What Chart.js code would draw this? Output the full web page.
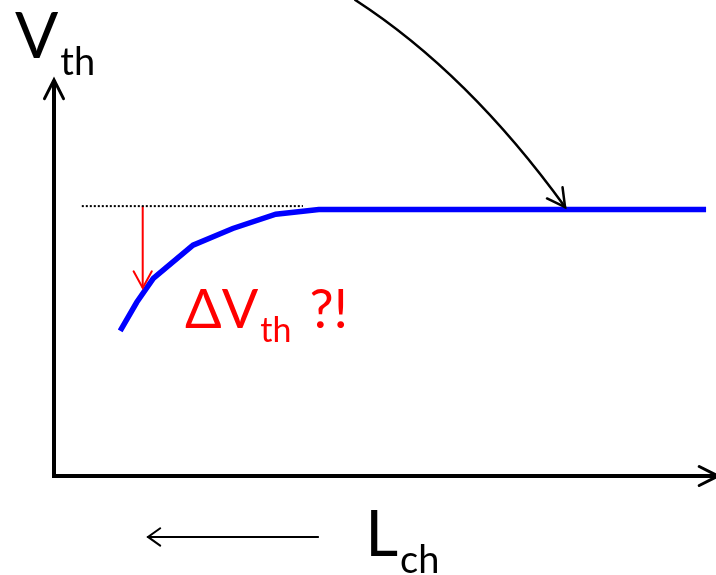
<!DOCTYPE html>
<html>
<head>
<meta charset="utf-8">
<script src="https://cdn.jsdelivr.net/npm/chart.js@4/dist/chart.umd.min.js"></script>
<style>
  html, body { margin: 0; padding: 0; background: #fff; }
  #wrap { width: 716px; height: 575px; }
  .probe { font-family: Lato; position: absolute; left: -999px; }
</style>
</head>
<body>
<span class="probe">V</span>
<div id="wrap"><canvas id="vthchart"></canvas></div>
<script>
// channel length (arbitrary units) vs threshold voltage
const lch = [1.0, 1.25, 1.5, 2.1, 2.7, 3.35, 4.0, 9.85];
const vth = [3.05, 3.65, 4.15, 4.85, 5.2, 5.5, 5.6, 5.6];

// long-channel reference level (dotted) and the roll-off arrow
const refX = [0.42, 3.76];
const refY = 5.67;
const deltaX = 1.34;
const deltaY = [5.67, 3.95];

// curved pointer from the top (start, control, end)
const curveX = [4.55, 6.25, 7.72];
const curveY = [10.0, 8.47, 5.65];

// "decreasing L" arrow under the axis
const shrinkX = [3.99, 1.42];
const shrinkY = -1.28;

const axisTopY = 8.28;
const axisRightX = 10.03;

const FONT = "Lato, 'Liberation Sans', sans-serif";

function head(ctx, tx, ty, ang, len, spread) {
  ctx.beginPath();
  ctx.moveTo(tx + len * Math.cos(ang + spread), ty + len * Math.sin(ang + spread));
  ctx.lineTo(tx, ty);
  ctx.lineTo(tx + len * Math.cos(ang - spread), ty + len * Math.sin(ang - spread));
  ctx.stroke();
}

function label(ctx, x, y, main, sub, tail, size, subSize, color) {
  ctx.fillStyle = color;
  ctx.font = size + 'px ' + FONT;
  ctx.fillText(main, x, y);
  let w = ctx.measureText(main).width;
  ctx.font = subSize + 'px ' + FONT;
  ctx.fillText(sub, x + w + 2, y + size * 0.26);
  if (tail) {
    let w2 = ctx.measureText(sub).width;
    ctx.font = size + 'px ' + FONT;
    ctx.fillText(tail, x + w + w2 + 20, y);
  }
}

const sketch = {
  id: 'sketch',
  afterDatasetsDraw(chart) {
    const ctx = chart.ctx;
    const xs = chart.scales.x, ys = chart.scales.y;
    const px = v => xs.getPixelForValue(v);
    const py = v => ys.getPixelForValue(v);
    ctx.save();
    ctx.lineCap = 'round';

    // axes
    ctx.strokeStyle = '#000';
    ctx.lineWidth = 4;
    ctx.lineJoin = 'miter';
    ctx.beginPath();
    ctx.moveTo(px(0), py(axisTopY));
    ctx.lineTo(px(0), py(0));
    ctx.lineTo(px(axisRightX), py(0));
    ctx.stroke();
    ctx.lineWidth = 3;
    head(ctx, px(0), py(axisTopY) - 2, Math.PI / 2, 21, 0.47);
    head(ctx, px(axisRightX), py(0), Math.PI, 21, 0.47);

    // red roll-off arrow head
    ctx.strokeStyle = '#ff0000';
    ctx.lineWidth = 2;
    head(ctx, px(deltaX), py(deltaY[1]), -Math.PI / 2, 19, 0.5);

    // curved pointer
    ctx.strokeStyle = '#000';
    ctx.lineWidth = 2.5;
    ctx.beginPath();
    ctx.moveTo(px(curveX[0]), py(curveY[0]));
    ctx.quadraticCurveTo(px(curveX[1]), py(curveY[1]), px(curveX[2]), py(curveY[2]));
    ctx.stroke();
    let ang = Math.atan2(py(curveY[1]) - py(curveY[2]), px(curveX[1]) - px(curveX[2]));
    head(ctx, px(curveX[2]), py(curveY[2]), ang, 20, 0.5);

    // arrow under the x axis
    ctx.lineWidth = 2;
    ctx.beginPath();
    ctx.moveTo(px(shrinkX[0]), py(shrinkY));
    ctx.lineTo(px(shrinkX[1]), py(shrinkY));
    ctx.stroke();
    head(ctx, px(shrinkX[1]), py(shrinkY), 0, 15, 0.62);

    // labels
    ctx.textBaseline = 'alphabetic';
    label(ctx, px(-0.59), py(8.78), 'V', 'th', '', 64, 38, '#000');
    label(ctx, px(1.98), py(3.11), '\u0394V', 'th', '?!', 54, 34, '#ff0000');
    label(ctx, px(4.70), py(-1.68), 'L', 'ch', '', 64, 38, '#000');
    ctx.restore();
  }
};

function draw() {
  new Chart(document.getElementById('vthchart'), {
    type: 'line',
    plugins: [sketch],
    data: {
      datasets: [{
        data: lch.map((x, i) => ({ x: x, y: vth[i] })),
        borderColor: '#0000ff',
        borderWidth: 5.5,
        pointRadius: 0,
        tension: 0,
        clip: false
      }, {
        data: refX.map(x => ({ x: x, y: refY })),
        borderColor: '#000',
        borderWidth: 2,
        borderDash: [2, 2],
        pointRadius: 0,
        clip: false
      }, {
        data: deltaY.map(y => ({ x: deltaX, y: y })),
        borderColor: '#ff0000',
        borderWidth: 2,
        pointRadius: 0,
        clip: false
      }]
    },
    options: {
      responsive: true,
      maintainAspectRatio: false,
      animation: false,
      layout: {
        padding: { left: 54, right: 0, top: 0, bottom: 99 }
      },
      plugins: {
        legend: { display: false },
        tooltip: { enabled: false }
      },
      scales: {
        x: { type: 'linear', min: 0, max: 10, display: false },
        y: { type: 'linear', min: 0, max: 10, display: false }
      }
    }
  });
}

if (document.fonts && document.fonts.load) {
  Promise.all([document.fonts.load('64px Lato'), document.fonts.load('38px Lato')])
    .then(draw, draw);
} else {
  draw();
}
</script>
</body>
</html>
